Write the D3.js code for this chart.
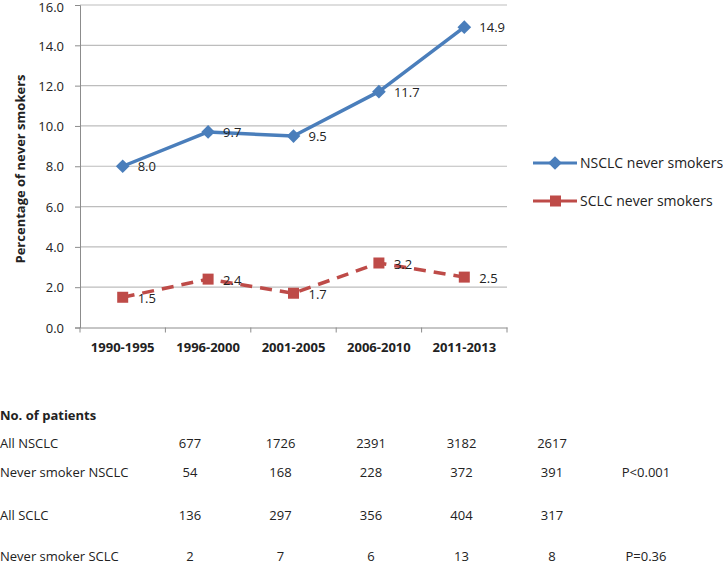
<!DOCTYPE html>
<html><head><meta charset="utf-8">
<script src="https://cdn.jsdelivr.net/npm/d3@7"></script>
<style>
html,body{margin:0;padding:0;background:#fff;}
svg text{font-family:"Open Sans","Noto Sans",sans-serif;fill:#222;}
</style></head>
<body>
<svg id="chart" width="723" height="566"></svg>
<script>
const categories = ["1990-1995","1996-2000","2001-2005","2006-2010","2011-2013"];
const nsclcNever = [8.0, 9.7, 9.5, 11.7, 14.9];
const sclcNever = [1.5, 2.4, 1.7, 3.2, 2.5];
const yTicks = [0,2,4,6,8,10,12,14,16];
const seriesNames = ["NSCLC never smokers","SCLC never smokers"];
const tableTitle = "No. of patients";
const rowLabels = ["All NSCLC","Never smoker NSCLC","All SCLC","Never smoker SCLC"];
const allNSCLC = [677,1726,2391,3182,2617];
const neverNSCLC = [54,168,228,372,391];
const allSCLC = [136,297,356,404,317];
const neverSCLC = [2,7,6,13,8];
const pValues = ["", "P<0.001", "", "P=0.36"];

(function(){
const svg = d3.select("#chart");
const pL = 80, pR = 507, pT = 5, pB = 327.5;
const x = d3.scaleBand().domain(categories).range([pL, pR]);
const y = d3.scaleLinear().domain([0,16]).range([pB, pT]);
const blue = "#4a7ebb", red = "#be4b48";

// gridlines
svg.append("g").selectAll("line").data(yTicks.filter(d=>d>0)).join("line")
  .attr("x1", pL).attr("x2", pR)
  .attr("y1", d=>y(d)).attr("y2", d=>y(d))
  .attr("stroke", "#bdbdbd").attr("stroke-width", 1.2);

// y axis
const yAxis = d3.axisLeft(y).tickValues(yTicks).tickFormat(d3.format(".1f")).tickSize(5).tickPadding(11);
const gy = svg.append("g").attr("transform", `translate(${pL},0)`).call(yAxis);
gy.select(".domain").attr("stroke", "#8c8c8c");
gy.selectAll(".tick line").attr("stroke", "#8c8c8c");
gy.selectAll("text").style("font-size", "13px").attr("fill", "#222")
  .attr("dy", d => d === 16 ? "0.5em" : "0.36em");

// x axis
const xAxis = d3.axisBottom(x).tickSize(0).tickPadding(15);
const gx = svg.append("g").attr("transform", `translate(0,${pB})`).call(xAxis);
gx.select(".domain").attr("stroke", "#8c8c8c");
gx.selectAll("text").style("font-size", "13px").style("font-weight", "bold").attr("fill", "#222");
const bounds = categories.map(c => x(c)).concat([pR]);
svg.append("g").selectAll("line").data(bounds).join("line")
  .attr("x1", d=>d).attr("x2", d=>d).attr("y1", pB).attr("y2", pB+5)
  .attr("stroke", "#8c8c8c");

// y title
svg.append("text").attr("transform", `translate(25,169) rotate(-90)`)
  .attr("text-anchor", "middle").style("font-size", "13px").style("font-weight", "bold")
  .text("Percentage of never smokers");

const cx = c => x(c) + x.bandwidth()/2;
const line = d3.line().x((d,i)=>cx(categories[i])).y(d=>y(d));

// NSCLC
svg.append("path").datum(nsclcNever).attr("d", line).attr("fill","none")
  .attr("stroke", blue).attr("stroke-width", 3.5).attr("stroke-linejoin","round");
const diamond = d3.symbol().type(d3.symbolDiamond2).size(120);
svg.append("g").selectAll("path").data(nsclcNever).join("path")
  .attr("d", diamond).attr("fill", blue)
  .attr("transform", (d,i)=>`translate(${cx(categories[i])},${y(d)})`);
svg.append("g").selectAll("text").data(nsclcNever).join("text")
  .attr("x", (d,i)=>cx(categories[i])+15).attr("y", d=>y(d)+5)
  .style("font-size","13px").text(d=>d.toFixed(1));

// SCLC
svg.append("path").datum(sclcNever).attr("d", line).attr("fill","none")
  .attr("stroke", red).attr("stroke-width", 3.5).attr("stroke-dasharray","12,8");
svg.append("g").selectAll("rect").data(sclcNever).join("rect")
  .attr("x", (d,i)=>cx(categories[i])-5.5).attr("y", d=>y(d)-5.5)
  .attr("width", 11).attr("height", 11).attr("fill", red);
svg.append("g").selectAll("text").data(sclcNever).join("text")
  .attr("x", (d,i)=>cx(categories[i])+15).attr("y", d=>y(d)+6)
  .style("font-size","13px").text(d=>d.toFixed(1));

// legend
const legY = [163, 201];
const leg = svg.append("g");
seriesNames.forEach((name, i) => {
  const g = leg.append("g").attr("transform", `translate(0,${legY[i]})`);
  g.append("line").attr("x1", 533).attr("x2", 577).attr("y1", 0).attr("y2", 0)
    .attr("stroke", i===0?blue:red).attr("stroke-width", 3);
  if (i===0) g.append("path").attr("d", diamond).attr("fill", blue).attr("transform","translate(555,0)");
  else g.append("rect").attr("x", 550).attr("y", -5.5).attr("width", 11).attr("height", 11).attr("fill", red);
  g.append("text").attr("x", 580).attr("y", 5).style("font-size","14px").text(name);
});

// table
const col = d3.scalePoint().domain(categories).range([190, 552]);
const tbl = svg.append("g");
tbl.append("text").attr("x", 0).attr("y", 420).style("font-size","13px").style("font-weight","bold").text(tableTitle);
const rows = [allNSCLC, neverNSCLC, allSCLC, neverSCLC];
const rowY = [448, 477, 520, 561];
rows.forEach((vals, r) => {
  tbl.append("text").attr("x", 0).attr("y", rowY[r]).style("font-size","13px").text(rowLabels[r]);
  tbl.append("g").selectAll("text").data(vals).join("text")
    .attr("x", (d,i)=>col(categories[i])).attr("y", rowY[r]).attr("text-anchor","middle")
    .style("font-size","13px").text(d=>d);
  if (pValues[r]) tbl.append("text").attr("x", 646).attr("y", rowY[r]).attr("text-anchor","middle")
    .style("font-size","13px").text(pValues[r]);
});
})();
</script>
</body></html>
